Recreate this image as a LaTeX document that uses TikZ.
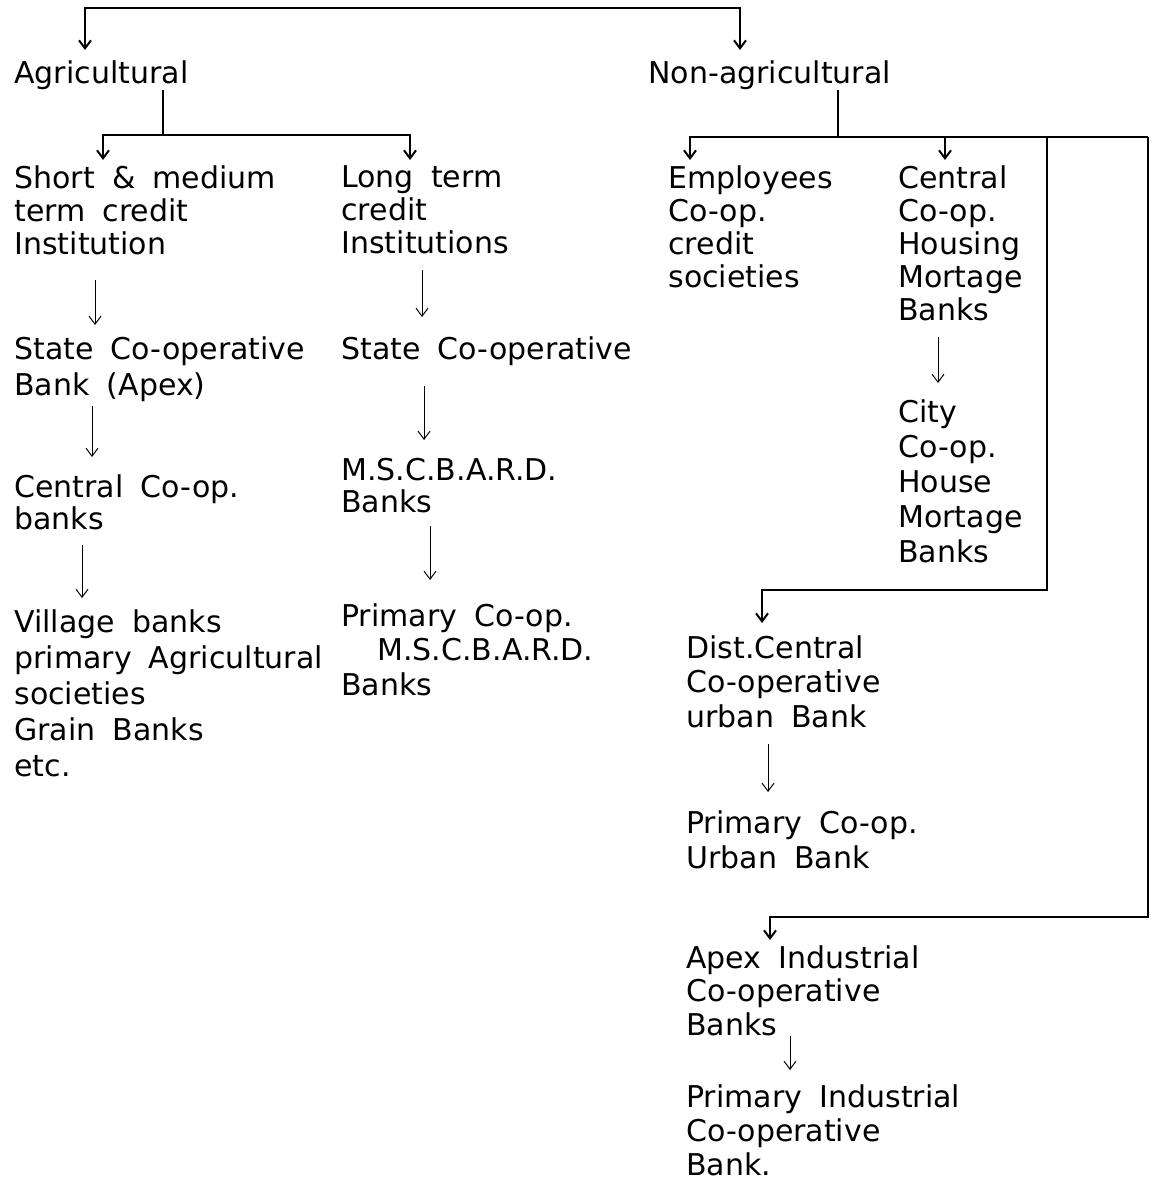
\documentclass[tikz,border=0pt]{standalone}
\usepackage{fontspec}
\setmainfont{DejaVu Sans}[WordSpace=1.8]
\usetikzlibrary{arrows.meta}

\begin{document}
\begin{tikzpicture}[x=0.5pt,y=-0.5pt,
    >={Straight Barb[length=4pt,width=6pt]},
    txt/.style={anchor=north west,inner sep=0pt,align=left,
      font=\fontsize{15}{#1}\selectfont},
    txt/.default=16.5pt,
    link/.style={line width=1pt},
    down/.style 2 args={->,line width=0.5pt,shorten <=#1,shorten >=#2}]
  \useasboundingbox (0,0) rectangle (1160,1181);

  % Sectors
  \node[txt] (agri) at (14,60) {Agricultural};
  \node[txt] (nonagri) at (648,60) {Non-agricultural};

  % Agricultural side
  \node[txt] (shortmed) at (14,165) {Short \& medium\\term credit\\Institution};
  \node[txt] (longterm) at (341,165) {Long term\\credit\\Institutions};
  \node[txt=18pt] (stateA) at (14,336) {State Co-operative\\Bank (Apex)};
  \node[txt] (stateL) at (341,336) {State Co-operative};
  \node[txt=16pt] (centcoop) at (14,474) {Central Co-op.\\banks};
  \node[txt=16pt] (mscbard) at (341,458) {M.S.C.B.A.R.D.\\Banks};
  \node[txt=18pt] (village) at (14,609) {Village banks\\primary Agricultural\\societies\\Grain Banks\\etc.};
  \node[txt=17.25pt] (primscb) at (341,603) {Primary Co-op.\\\hspace*{18pt}M.S.C.B.A.R.D.\\Banks};

  % Non-agricultural side
  \node[txt] (employ) at (668,165) {Employees\\Co-op.\\credit\\societies};
  \node[txt] (centhouse) at (898,165) {Central\\Co-op.\\Housing\\Mortage\\Banks};
  \node[txt=17.5pt] (city) at (898,399) {City\\Co-op.\\House\\Mortage\\Banks};
  \node[txt=17.25pt] (dist) at (686,635) {Dist.Central\\Co-operative\\urban Bank};
  \node[txt=17.5pt] (primurb) at (686,810) {Primary Co-op.\\Urban Bank};
  \node[txt=16.75pt] (apexind) at (686,945) {Apex Industrial\\Co-operative\\Banks};
  \node[txt=17pt] (primind) at (686,1084) {Primary Industrial\\Co-operative\\Bank.};

  % Brackets
  \coordinate (topL) at (85,8);
  \coordinate (topR) at (740,8);
  \draw[link,<->,shorten <=5pt,shorten >=5pt]
    (agri.north -| topL) -- (topL) -- (topR) -- (nonagri.north -| topR);

  \coordinate (agriJ) at (163,135);
  \coordinate (agriL) at (103,135);
  \coordinate (agriR) at (410,135);
  \draw[link] (agri.south -| agriJ) -- (agriJ);
  \draw[link,<->,shorten <=2.5pt,shorten >=2.5pt]
    (shortmed.north -| agriL) -- (agriL) -- (agriR) -- (longterm.north -| agriR);

  \coordinate (nonJ) at (838,137);
  \coordinate (nonL) at (690,137);
  \coordinate (nonM) at (945,137);
  \coordinate (nonA) at (1047,137);
  \coordinate (nonB) at (1148,137);
  \coordinate (distK) at (762,590);
  \coordinate (apexK) at (770,917);
  \draw[link] (nonagri.south -| nonJ) -- (nonJ);
  \draw[link,<-,shorten <=2.5pt] (employ.north -| nonL) -- (nonL) -- (nonB);
  \draw[link,->,shorten >=2.5pt] (nonM) -- (centhouse.north -| nonM);
  \draw[link,->,shorten >=6pt] (nonA) |- (distK) -- (dist.north -| distK);
  \draw[link,->,shorten >=2.5pt] (nonB) |- (apexK) -- (apexind.north -| apexK);

  % Chains
  \coordinate (colA) at (95,0);
  \coordinate (colB) at (92,0);
  \coordinate (colC) at (82,0);
  \coordinate (colD) at (422,0);
  \coordinate (colE) at (424,0);
  \coordinate (colF) at (430,0);
  \coordinate (colG) at (938,0);
  \coordinate (colH) at (768,0);
  \coordinate (colI) at (790,0);
  \draw[down={12.5pt}{5.5pt}] (shortmed.south -| colA) -- (stateA.north -| colA);
  \draw[down={2pt}{8.5pt}] (stateA.south -| colB) -- (centcoop.north -| colB);
  \draw[down={7.5pt}{5.5pt}] (centcoop.south -| colC) -- (village.north -| colC);
  \draw[down={8pt}{9.5pt}] (longterm.south -| colD) -- (stateL.north -| colD);
  \draw[down={10pt}{9pt}] (stateL.south -| colE) -- (mscbard.north -| colE);
  \draw[down={6.5pt}{11.5pt}] (mscbard.south -| colF) -- (primscb.north -| colF);
  \draw[down={8pt}{8pt}] (centhouse.south -| colG) -- (city.north -| colG);
  \draw[down={8pt}{9pt}] (dist.south -| colH) -- (primurb.north -| colH);
  \draw[down={0pt}{7pt}] (apexind.south -| colI) -- (primind.north -| colI);
\end{tikzpicture}
\end{document}
